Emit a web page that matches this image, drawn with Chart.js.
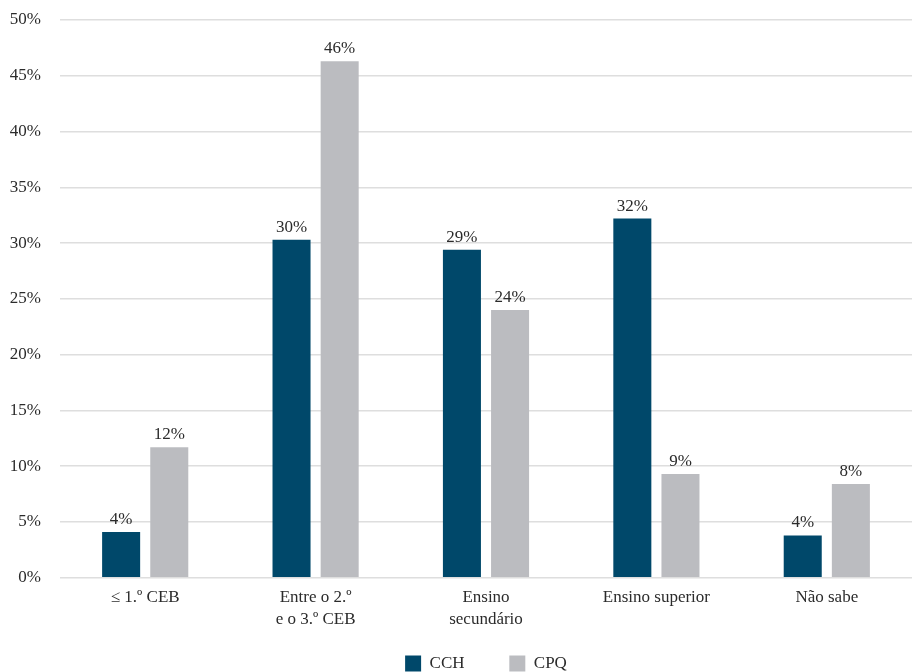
<!DOCTYPE html>
<html lang="pt">
<head>
<meta charset="utf-8">
<title>CCH vs CPQ — escolaridade</title>
<script src="https://cdn.jsdelivr.net/npm/chart.js@4/dist/chart.umd.min.js"></script>
<style>
  html, body { margin: 0; padding: 0; background: #ffffff; overflow: hidden; }
  #wrap { width: 912px; height: 682px; }
</style>
</head>
<body>
<div id="wrap"><canvas id="chart" width="912" height="682"></canvas></div>
<script>
// Education level categories (multi-line labels as arrays)
const categories = [
  '≤ 1.º CEB',
  ['Entre o 2.º', 'e o 3.º CEB'],
  ['Ensino', 'secundário'],
  'Ensino superior',
  'Não sabe'
];
// Share of respondents per level, in percent
const cchValues = [4.1, 30.3, 29.4, 32.2, 3.8];
const cpqValues = [11.7, 46.3, 24.0, 9.3, 8.4];
// Value axis ticks
const yTicks = [0, 5, 10, 15, 20, 25, 30, 35, 40, 45, 50];

const FONT = '"Liberation Serif", "DejaVu Serif", serif';
const TEXT = '#2b2b2b';

// Writes the rounded value above every bar
const barValueLabels = {
  id: 'barValueLabels',
  afterDatasetsDraw(chart) {
    const ctx = chart.ctx;
    ctx.save();
    ctx.font = '17px ' + FONT;
    ctx.fillStyle = TEXT;
    ctx.textAlign = 'center';
    ctx.textBaseline = 'alphabetic';
    chart.data.datasets.forEach((ds, i) => {
      const meta = chart.getDatasetMeta(i);
      meta.data.forEach((bar, j) => {
        ctx.fillText(Math.round(ds.data[j]) + '%', bar.x, bar.y - 8);
      });
    });
    ctx.restore();
  }
};

new Chart(document.getElementById('chart'), {
  type: 'bar',
  data: {
    labels: categories,
    datasets: [
      { label: 'CCH', data: cchValues, backgroundColor: '#00486a' },
      { label: 'CPQ', data: cpqValues, backgroundColor: '#bbbcc0' }
    ]
  },
  options: {
    responsive: false,
    animation: false,
    layout: { padding: { left: 0, right: 0, top: 20, bottom: 0 } },
    datasets: {
      bar: { categoryPercentage: 0.565, barPercentage: 0.79 }
    },
    scales: {
      x: {
        grid: { display: false, drawTicks: false },
        border: { display: false },
        ticks: {
          color: TEXT,
          font: { family: FONT, size: 17, lineHeight: 1.3 },
          padding: 9,
          maxRotation: 0
        }
      },
      y: {
        min: 0,
        max: 50,
        afterBuildTicks(axis) { axis.ticks = yTicks.map(v => ({ value: v })); },
        afterFit(axis) {
          axis.width = 60;
          axis.paddingTop = 0;
          axis.paddingBottom = 0;
        },
        grid: { color: '#dedede', lineWidth: 1.5, drawTicks: false },
        border: { display: false },
        ticks: {
          color: TEXT,
          font: { family: FONT, size: 17 },
          padding: 19,
          callback: v => v + '%'
        }
      }
    },
    plugins: {
      tooltip: { enabled: false },
      legend: {
        position: 'bottom',
        fullSize: false,
        labels: {
          color: TEXT,
          font: { family: FONT, size: 17 },
          boxWidth: 16,
          boxHeight: 16,
          padding: 15,
          // widen the first entry so the two keys sit well apart
          generateLabels(chart) {
            const items = Chart.defaults.plugins.legend.labels.generateLabels(chart);
            if (items.length) items[0].text = items[0].text + '       ';
            return items;
          }
        }
      }
    }
  },
  plugins: [barValueLabels]
});
</script>
</body>
</html>
